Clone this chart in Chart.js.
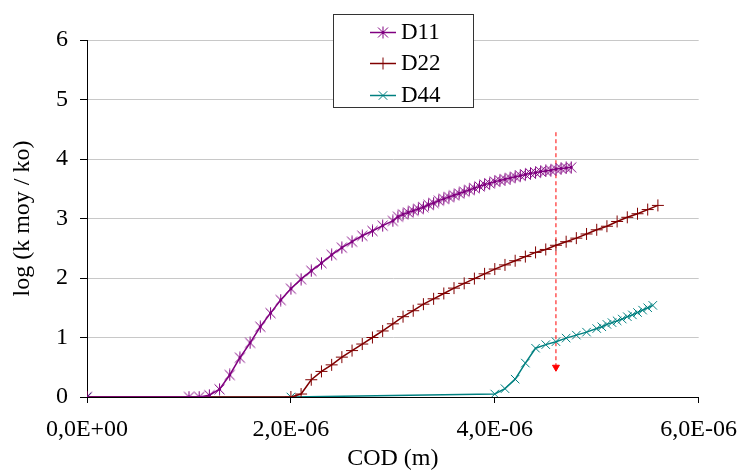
<!DOCTYPE html>
<html>
<head>
<meta charset="utf-8">
<script src="https://cdn.jsdelivr.net/npm/chart.js@4/dist/chart.umd.min.js"></script>
<style>
  html, body { margin: 0; padding: 0; background: #fff; }
  #wrap { width: 749px; height: 471px; }
</style>
</head>
<body>
<div id="wrap"><canvas id="codChart" width="749" height="471"></canvas></div>
<script>
// COD in units of 1E-06 m, log (k moy / ko)
const codD11 = [0, 1.0, 1.1, 1.2, 1.3, 1.4, 1.5, 1.6, 1.7, 1.8, 1.9, 2.0, 2.1, 2.2, 2.3, 2.4, 2.5, 2.6, 2.7, 2.8, 2.9,
  3.0, 3.05, 3.1, 3.15, 3.2, 3.25, 3.3, 3.35, 3.4, 3.45, 3.5, 3.55, 3.6, 3.65, 3.7, 3.75, 3.8, 3.85, 3.9, 3.95,
  4.0, 4.05, 4.1, 4.15, 4.2, 4.25, 4.3, 4.35, 4.4, 4.45, 4.5, 4.55, 4.6, 4.65, 4.7, 4.75];
const logD11 = [0, 0, 0, 0.03, 0.13, 0.37, 0.66, 0.91, 1.18, 1.41, 1.63, 1.82, 1.98, 2.12, 2.25, 2.39, 2.51, 2.61, 2.71, 2.79, 2.88,
  2.96, 3.03, 3.07, 3.10, 3.13, 3.16, 3.19, 3.23, 3.26, 3.30, 3.33, 3.36, 3.39, 3.42, 3.45, 3.48, 3.51, 3.54, 3.57, 3.59,
  3.62, 3.64, 3.66, 3.68, 3.70, 3.72, 3.74, 3.76, 3.77, 3.79, 3.80, 3.81, 3.83, 3.84, 3.85, 3.86];

const codD22 = [0, 2.0, 2.1, 2.2, 2.3, 2.4, 2.5, 2.6, 2.7, 2.8, 2.9, 3.0, 3.1, 3.2, 3.3, 3.4, 3.5, 3.6, 3.7, 3.8, 3.9,
  4.0, 4.1, 4.2, 4.3, 4.4, 4.5, 4.6, 4.7, 4.8, 4.9, 5.0, 5.1, 5.2, 5.3, 5.4, 5.5, 5.6];
const logD22 = [0, 0, 0.05, 0.29, 0.43, 0.54, 0.67, 0.78, 0.89, 1.00, 1.11, 1.23, 1.35, 1.45, 1.56, 1.65, 1.74, 1.83, 1.91, 1.99, 2.07,
  2.15, 2.22, 2.29, 2.36, 2.43, 2.48, 2.55, 2.61, 2.67, 2.74, 2.81, 2.87, 2.95, 3.02, 3.08, 3.15, 3.22];

const codD44 = [0, 2.0, 4.0, 4.1, 4.2, 4.3, 4.4, 4.5, 4.6, 4.7, 4.8, 4.9, 5.0, 5.05, 5.1, 5.15, 5.2, 5.25, 5.3, 5.35, 5.4, 5.45, 5.5, 5.55];
const logD44 = [0, 0, 0.05, 0.14, 0.30, 0.57, 0.82, 0.88, 0.93, 0.99, 1.04, 1.09, 1.15, 1.18, 1.22, 1.25, 1.28, 1.31, 1.35, 1.38, 1.42, 1.46, 1.50, 1.54];

// dashed marker line
const arrowCod = [4.6, 4.6];
const arrowLog = [4.45, 0.5];

const seriesNames = ['D11', 'D22', 'D44'];
const xTickLabels = ['0,0E+00', '2,0E-06', '4,0E-06', '6,0E-06'];
const xTickValues = [0, 2, 4, 6];

const pts = (xs, ys) => xs.map((x, i) => ({ x: x, y: ys[i] }));

// excel style star marker: X with a vertical bar and a centre dot
function starMarker(color) {
  const c = document.createElement('canvas');
  c.width = 13; c.height = 13;
  const g = c.getContext('2d');
  g.strokeStyle = color;
  g.lineWidth = 1;
  g.beginPath();
  g.moveTo(1.5, 1.5); g.lineTo(11.5, 11.5);
  g.moveTo(11.5, 1.5); g.lineTo(1.5, 11.5);
  g.moveTo(6.5, 0.5); g.lineTo(6.5, 12.5);
  g.stroke();
  g.fillStyle = color;
  g.fillRect(5, 5, 3, 3);
  return c;
}

const purple = '#800080', darkRed = '#800000', teal = '#008080';

const floatLegend = {
  id: 'floatLegend',
  afterDraw(chart) {
    const ctx = chart.ctx;
    ctx.save();
    ctx.fillStyle = '#fff';
    ctx.fillRect(333, 14, 141, 94);
    ctx.strokeStyle = '#333';
    ctx.lineWidth = 1;
    ctx.strokeRect(333.5, 14.5, 140, 93);
    const rows = [32, 63, 95];
    for (let i = 0; i < 3; i++) {
      const ds = chart.data.datasets[i];
      const y = rows[i];
      ctx.strokeStyle = ds.borderColor;
      ctx.lineWidth = 1.5;
      ctx.beginPath();
      ctx.moveTo(370, y + 0.5); ctx.lineTo(396, y + 0.5);
      ctx.stroke();
      ctx.lineWidth = 1;
      ctx.strokeStyle = ds.pointBorderColor;
      ctx.fillStyle = ds.pointBorderColor;
      Chart.helpers.drawPoint(ctx, { pointStyle: ds.pointStyle, radius: ds.pointRadius, rotation: 0, borderWidth: 1 }, 383, y + 0.5);
      ctx.fillStyle = '#000';
      ctx.font = '23px "Liberation Serif"';
      ctx.textBaseline = 'middle';
      ctx.textAlign = 'left';
      ctx.fillText(seriesNames[i], 401, y + 1);
    }
    ctx.restore();
  }
};

new Chart(document.getElementById('codChart'), {
  type: 'scatter',
  data: {
    datasets: [
      { label: seriesNames[0], data: pts(codD11, logD11), showLine: true, borderColor: purple, borderWidth: 1.5,
        pointStyle: starMarker(purple), pointRadius: 5, pointBorderColor: purple, pointBackgroundColor: purple },
      { label: seriesNames[1], data: pts(codD22, logD22), showLine: true, borderColor: darkRed, borderWidth: 1.5,
        pointStyle: 'cross', pointRadius: 6, pointBorderWidth: 1, pointBorderColor: darkRed, pointBackgroundColor: darkRed },
      { label: seriesNames[2], data: pts(codD44, logD44), showLine: true, borderColor: teal, borderWidth: 1.5,
        pointStyle: 'crossRot', pointRadius: 6, pointBorderWidth: 1, pointBorderColor: teal, pointBackgroundColor: teal },
      { label: 'arrow', data: pts(arrowCod, arrowLog), showLine: true, borderColor: '#ff0000', borderWidth: 1,
        borderDash: [4, 3], pointStyle: 'triangle', rotation: 180, pointRadius: [0, 4],
        pointBackgroundColor: '#ff0000', pointBorderColor: '#ff0000' }
    ]
  },
  options: {
    responsive: false,
    animation: false,
    layout: { padding: { top: 40, right: 41, left: 0, bottom: 0 } },
    plugins: { legend: { display: false }, tooltip: { enabled: false } },
    scales: {
      x: {
        type: 'linear', min: 0, max: 6,
        afterFit(s) { s.height = 74; },
        afterBuildTicks(s) { s.ticks = xTickValues.map(v => ({ value: v })); },
        ticks: {
          color: '#000', padding: 12,
          font: { family: 'Liberation Serif', size: 24 },
          maxRotation: 0,
          callback: (v) => xTickLabels[xTickValues.indexOf(v)]
        },
        grid: { drawOnChartArea: false, tickLength: 6, tickColor: '#000' },
        border: { color: '#000', width: 1 },
        title: { display: true, text: 'COD (m)', color: '#000', padding: { top: 0, bottom: 0 },
          font: { family: 'Liberation Serif', size: 24, lineHeight: 1 } }
      },
      y: {
        min: 0, max: 6,
        afterFit(s) { s.width = 87; },
        ticks: { stepSize: 1, color: '#000', padding: 12, font: { family: 'Liberation Serif', size: 24 } },
        grid: { color: '#c8c8c8', tickLength: 7, tickColor: '#000' },
        border: { color: '#000', width: 1 },
        title: { display: true, text: 'log (k moy / ko)', color: '#000', padding: { top: 8, bottom: 0 },
          font: { family: 'Liberation Serif', size: 24 } }
      }
    }
  },
  plugins: [floatLegend]
});
</script>
</body>
</html>
